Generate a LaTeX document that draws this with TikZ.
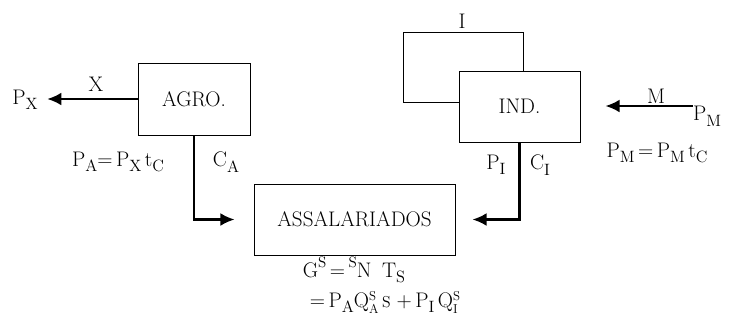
\documentclass[tikz,border=0pt]{standalone}
\usepackage{tikz}
\usetikzlibrary{arrows.meta}
\newcommand{\smalltx}[1]{{\fontsize{13.5}{14}\selectfont #1}}
\newcommand{\subtx}[1]{\raisebox{-0.6ex}{\fontsize{14}{15}\selectfont #1}}
\newcommand{\suptx}[1]{\raisebox{1.1ex}{\fontsize{13}{14}\selectfont #1}}
\newcommand{\stacktx}[2]{\raisebox{-5pt}{\fontsize{11}{15}\selectfont\shortstack[l]{#1\\#2}}}

\begin{document}
\begin{tikzpicture}[x=0.03cm,y=-0.03cm,font=\fontsize{18}{21}\selectfont,
  box/.style={draw,line width=0.8pt,inner sep=0pt},
  flow/.style={line width=2pt,-{Latex[length=12pt,width=11pt]}},
  lbl/.style={inner sep=0pt}]
\useasboundingbox (0,0) rectangle (737,325);
\node[box,minimum width=3.36cm,minimum height=2.16cm] (agro) at (194,99) {AGRO.};
\node[box,minimum width=3.63cm,minimum height=2.13cm] (ind) at (519.5,106.5) {IND.};
\node[box,minimum width=6.03cm,minimum height=2.13cm] (assal) at (354.5,219.5) {ASSALARIADOS};
\draw[line width=0.8pt] (ind.west |- 0,102) -- (403,102) -- (403,32) -- (523,32) -- (ind.north -| 523,0);
\node[lbl,anchor=south] (ilbl) at (462,29) {I};
\node[lbl] (px) at (25,100) {P\subtx{X}};
\node[lbl] (xlbl) at (96,84) {X};
\draw[flow,shorten >=8pt] (agro.west) -- (agro.west -| px.east);
\node[lbl,anchor=north west] (pm) at (693,106) {P\subtx{M}};
\node[lbl] (mlbl) at (656,96) {M};
\draw[flow,shorten >=0.75cm] (pm.north west) -- (pm.north west -| ind.east);
\node[lbl] (pmeq) at (657,153) {P\subtx{M}\,=\,P\subtx{M}\,t\subtx{C}};
\node[lbl] (paeq) at (118,162) {P\subtx{A}=\,P\subtx{X}\,t\subtx{C}};
\node[lbl] (ca) at (226,162) {C\subtx{A}};
\node[lbl] (pi) at (496,165) {P\subtx{I}};
\node[lbl] (ci) at (540,165) {C\subtx{I}};
\draw[flow,shorten >=0.57cm] (agro.south) |- (assal.west);
\draw[flow,shorten >=0.51cm] (ind.south) |- (assal.east);
\node[lbl] (gs) at (354,270) {G\suptx{S}\,=\,\suptx{S}N\enspace T\subtx{S}};
\node[lbl] (gseq) at (385,302) {=\,P\subtx{A}Q\stacktx{S}{A}\,\smalltx{S}\;+\,P\subtx{I}\,Q\stacktx{S}{I}};
\end{tikzpicture}
\end{document}
